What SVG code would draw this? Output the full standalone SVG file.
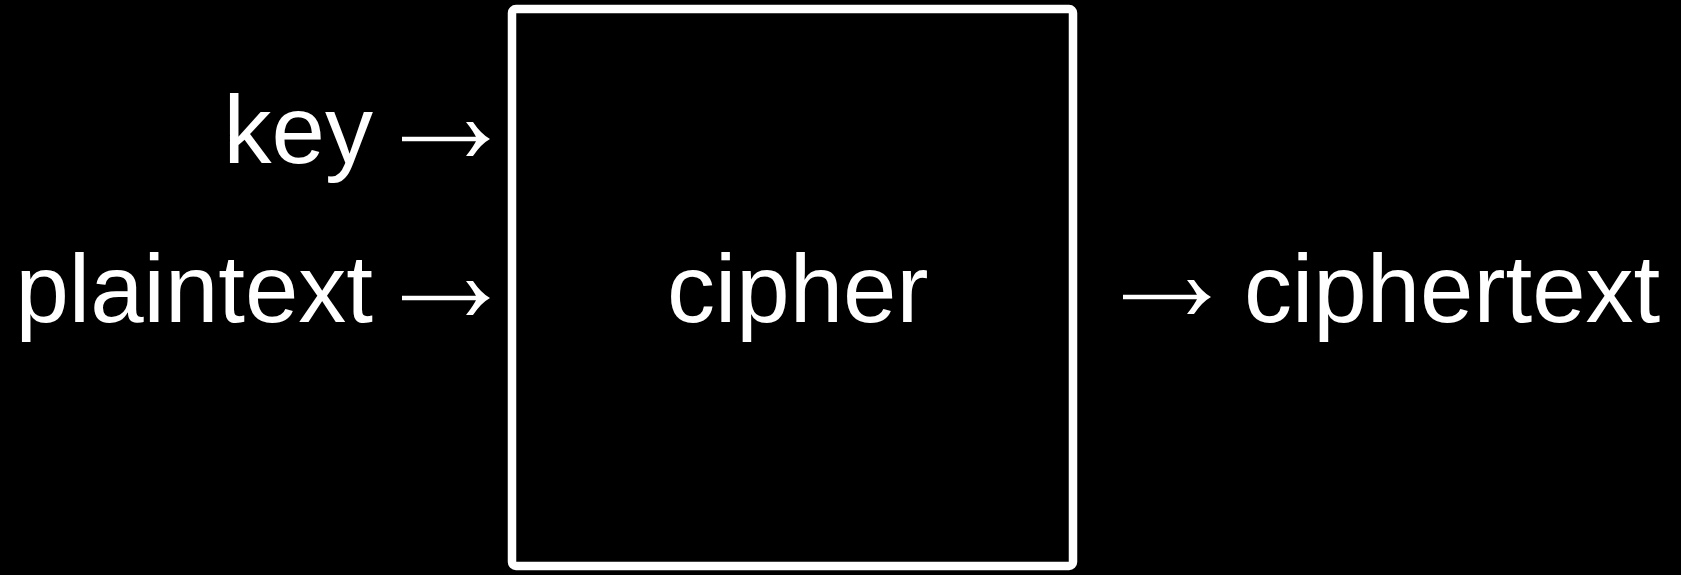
<svg xmlns="http://www.w3.org/2000/svg" width="1681" height="575" viewBox="0 0 1681 575">
<style>
.t{font-family:"Liberation Sans",Arial,sans-serif;font-size:96px;fill:#fff}
.a{fill:none;stroke:#fff;stroke-width:4.3}
.h{fill:#fff}
</style>
<defs>
<path id="ah" d="M-23,-17 L-16,-17 Q-8,-5 1,0 Q-8,5 -16,17 L-23,17 Q-15,7 -12,0 Q-15,-7 -23,-17 Z"/>
</defs>
<rect width="1681" height="575" fill="#000"/>
<g id="cipher">
<rect x="512" y="9" width="561" height="557" rx="4" fill="#000" stroke="#fff" stroke-width="8.5"/>
<text class="t" x="667" y="322">cipher</text>
</g>
<g id="key"><text class="t" x="373" y="163" text-anchor="end">key</text></g>
<g id="plaintext"><text class="t" x="373" y="322" text-anchor="end">plaintext</text></g>
<g id="ciphertext"><text class="t" x="1244" y="322">ciphertext</text></g>
<g id="connectors">
<path class="a" d="M402 139H484"/>
<use href="#ah" class="h" x="489" y="139"/>
<path class="a" d="M402 298H484"/>
<use href="#ah" class="h" x="489" y="298"/>
<path class="a" d="M1123 297H1205"/>
<use href="#ah" class="h" x="1210" y="297"/>
</g>
</svg>
